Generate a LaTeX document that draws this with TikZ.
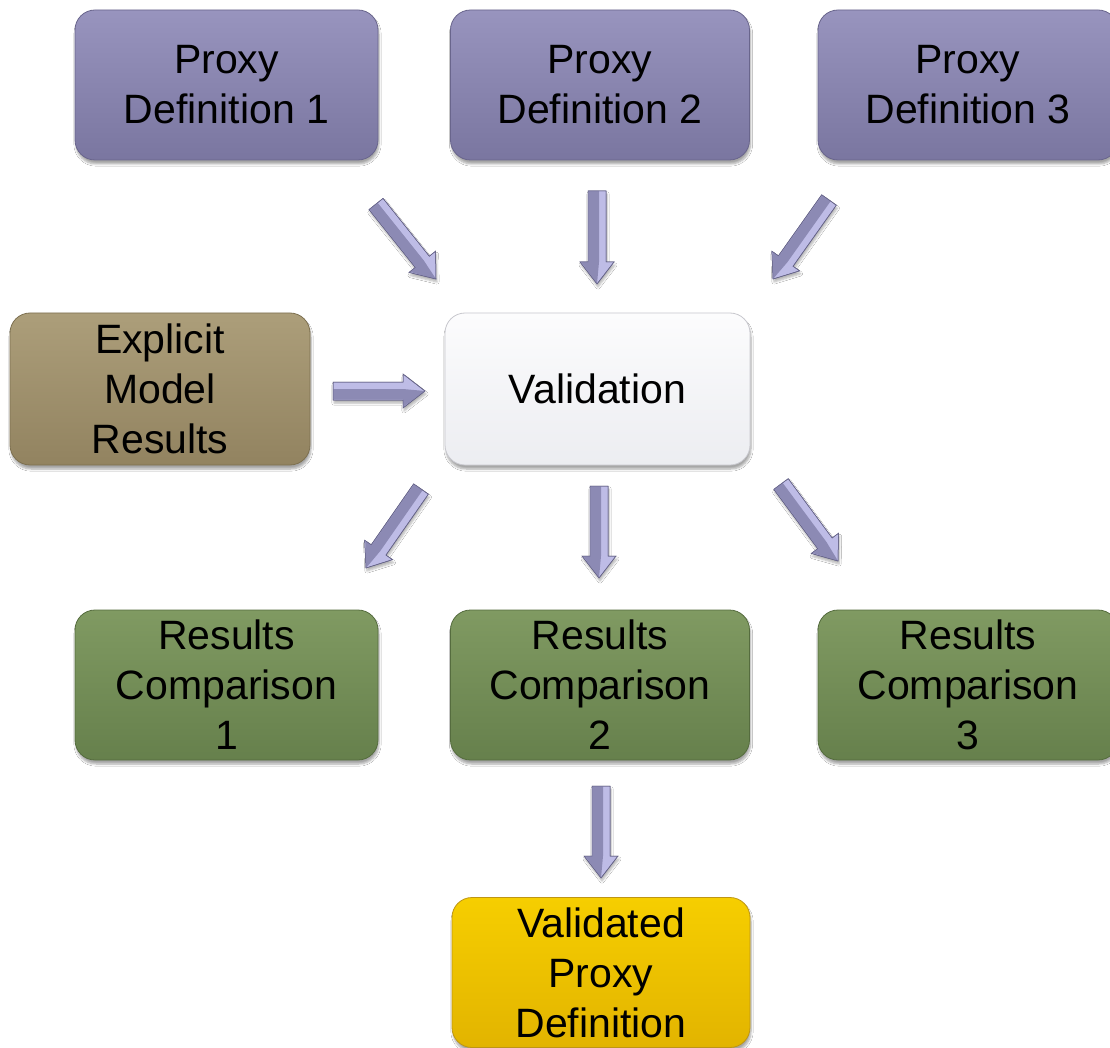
\documentclass[tikz,border=0pt]{standalone}
\usepackage{fontspec}
\setmainfont{Liberation Sans}
\usetikzlibrary{calc,shadows.blur}
\definecolor{pxT}{RGB}{152,148,190}
\definecolor{pxB}{RGB}{122,118,160}
\definecolor{pxD}{RGB}{105,101,140}
\definecolor{emT}{RGB}{172,158,122}
\definecolor{emB}{RGB}{146,131,96}
\definecolor{emD}{RGB}{125,112,80}
\definecolor{vaT}{RGB}{252,252,253}
\definecolor{vaB}{RGB}{236,237,241}
\definecolor{vaD}{RGB}{200,200,206}
\definecolor{rcT}{RGB}{128,154,98}
\definecolor{rcB}{RGB}{102,128,76}
\definecolor{rcD}{RGB}{85,108,62}
\definecolor{vpT}{RGB}{246,206,0}
\definecolor{vpB}{RGB}{226,180,0}
\definecolor{vpD}{RGB}{190,150,20}
\definecolor{arL}{RGB}{190,188,230}
\definecolor{arM}{RGB}{140,138,180}
\definecolor{arD}{RGB}{100,98,135}
\tikzset{
  card/.style={rectangle, rounded corners=20pt, minimum height=150pt, align=center,
    font=\fontsize{41}{50}\selectfont, inner sep=0pt, line width=0.8pt,
    blur shadow={shadow xshift=1pt, shadow yshift=-4pt, shadow blur steps=6, shadow opacity=35}},
  proxy/.style={card, top color=pxT, bottom color=pxB, draw=pxD},
  expl/.style={card, top color=emT, bottom color=emB, draw=emD},
  valid/.style={card, top color=vaT, bottom color=vaB, draw=vaD},
  result/.style={card, top color=rcT, bottom color=rcB, draw=rcD},
  final/.style={card, top color=vpT, bottom color=vpB, draw=vpD},
  arrlight/.style={fill=arL, draw=arD, line width=0.5pt,
    blur shadow={shadow xshift=1pt, shadow yshift=-3pt, shadow blur steps=5, shadow opacity=30}},
  arrdark/.style={fill=arM},
}
\newcommand\blkarrow[2]{%
  \coordinate (ba-n) at ($(#2)!22pt!(#1)$);
  \path[arrlight] ($(#1)!9pt!90:(#2)$) -- ($(ba-n)!9pt!90:(#2)$) -- ($(ba-n)!17pt!90:(#2)$) -- (#2)
    -- ($(ba-n)!17pt!-90:(#2)$) -- ($(ba-n)!9pt!-90:(#2)$) -- ($(#1)!9pt!-90:(#2)$) -- cycle;
  \path[arrdark] ($(#1)!2pt!90:(#2)$) -- ($(ba-n)!2pt!90:(#2)$) -- (#2)
    -- ($(ba-n)!16pt!-90:(#2)$) -- ($(ba-n)!8.5pt!-90:(#2)$) -- ($(#1)!8.5pt!-90:(#2)$) -- cycle;
  \path[draw=arD, line width=0.5pt] ($(#1)!9pt!90:(#2)$) -- ($(ba-n)!9pt!90:(#2)$) -- ($(ba-n)!17pt!90:(#2)$) -- (#2)
    -- ($(ba-n)!17pt!-90:(#2)$) -- ($(ba-n)!9pt!-90:(#2)$) -- ($(#1)!9pt!-90:(#2)$) -- cycle;
}
\begin{document}
\begin{tikzpicture}[x=1pt, y=-1pt]
\useasboundingbox (0,0) rectangle (1110,1048);
\clip (0,0) rectangle (1110,1048);
\fill[white] (0,0) rectangle (1110,1048);
% boxes
\node[proxy, minimum width=303pt] (p1) at (226.5,85) {Proxy\\Definition 1};
\node[proxy, minimum width=299pt] (p2) at (600,85) {Proxy\\Definition 2};
\node[proxy, minimum width=300pt] (p3) at (968,85) {Proxy\\Definition 3};
\node[expl, minimum width=300pt, minimum height=152pt] (em) at (160,389) {Explicit\\Model\\Results};
\node[valid, minimum width=305pt, minimum height=152pt] (va) at (597.5,389) {Validation};
\node[result, minimum width=303pt] (r1) at (226.5,685) {Results\\Comparison\\1};
\node[result, minimum width=299pt] (r2) at (600,685) {Results\\Comparison\\2};
\node[result, minimum width=300pt] (r3) at (968,685) {Results\\Comparison\\3};
\node[final, minimum width=298pt] (vp) at (601,972.5) {Validated\\Proxy\\Definition};
% arrow end points
\coordinate (a1s) at (376,204); \coordinate (a1e) at (436,279);
\coordinate (a2s) at (597,191); \coordinate (a2e) at (597,284);
\coordinate (a3s) at (829,200); \coordinate (a3e) at (773,279);
\coordinate (a4s) at (333,391); \coordinate (a4e) at (425,391);
\coordinate (a5s) at (421,489); \coordinate (a5e) at (366,568);
\coordinate (a6s) at (599,486); \coordinate (a6e) at (599,578);
\coordinate (a7s) at (781,484); \coordinate (a7e) at (838,561);
\coordinate (a8s) at (601,786); \coordinate (a8e) at (601,878);
\blkarrow{a1s}{a1e}
\blkarrow{a2s}{a2e}
\blkarrow{a3s}{a3e}
\blkarrow{a4s}{a4e}
\blkarrow{a5s}{a5e}
\blkarrow{a6s}{a6e}
\blkarrow{a7s}{a7e}
\blkarrow{a8s}{a8e}
\end{tikzpicture}
\end{document}
